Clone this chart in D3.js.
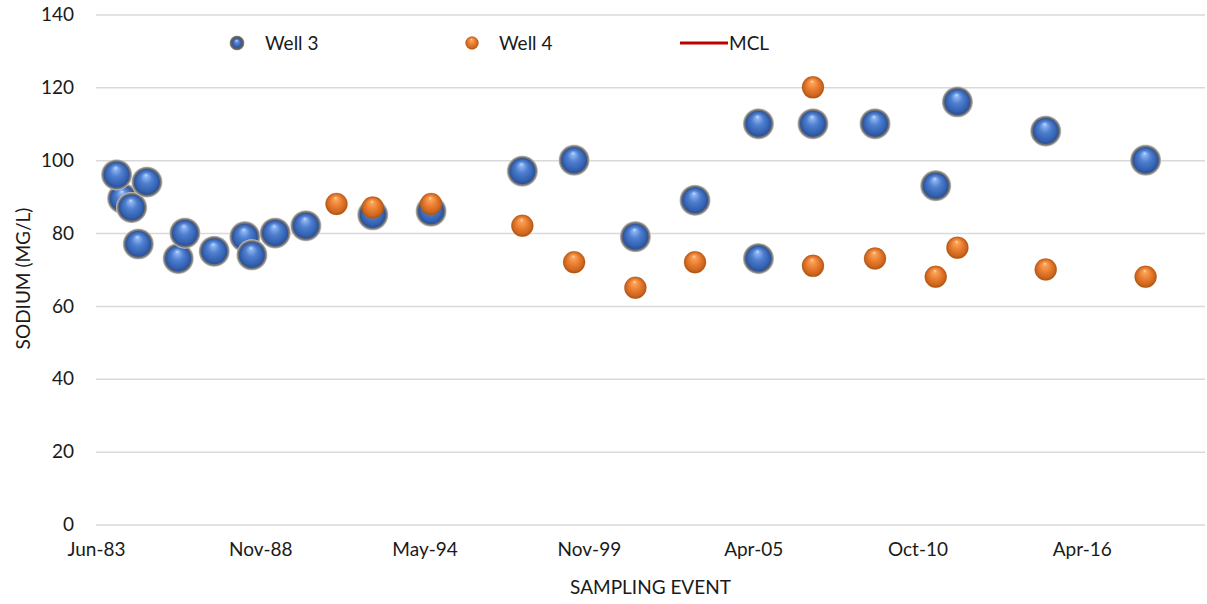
<!DOCTYPE html>
<html>
<head>
<meta charset="utf-8">
<script src="https://cdn.jsdelivr.net/npm/d3@7"></script>
<style>
  html, body { margin: 0; padding: 0; background: #fff; }
  svg { display: block; font-family: Lato, "Open Sans", sans-serif; }
</style>
</head>
<body>
<svg id="chart" width="1207" height="604"></svg>
<script>
// Sodium sampling results, Well 3 and Well 4 (mg/L)
const well3Dates = ["1984-04-20", "1984-02-07", "1984-08-08", "1984-10-28", "1985-02-10",
  "1986-02-26", "1986-05-18", "1987-05-10", "1988-05-17", "1988-08-11", "1989-05-21",
  "1990-05-30", "1992-08-21", "1994-08-01", "1997-08-16", "1999-05-08", "2001-05-23",
  "2003-05-19", "2005-06-29", "2005-06-29", "2007-04-24", "2009-05-18", "2011-05-27",
  "2012-02-15", "2015-01-25", "2018-05-25"];
const well3Values = [89.5, 96, 87, 77, 94,
  73, 80, 75, 79, 74, 80,
  82, 85, 86, 97, 100, 79,
  89, 110, 73, 110, 110, 93,
  116, 108, 100];

const well4Dates = ["1991-06-07", "1992-08-21", "1994-08-01", "1997-08-16", "1999-05-08",
  "2001-05-23", "2003-05-19", "2007-04-24", "2007-04-24", "2009-05-18", "2011-05-27",
  "2012-02-15", "2015-01-25", "2018-05-25"];
const well4Values = [88, 87, 88, 82, 72,
  65, 72, 120, 71, 73, 68,
  76, 70, 68];

// Date axis: starts Jun-83, a labelled tick every 2000 days
const xStart = "1983-06-01";
const xTickStepDays = 2000;
const xTickCount = 7;
const xSpanDays = 13500;

const yTicks = [0, 20, 40, 60, 80, 100, 120, 140];
const seriesNames = ["Well 3", "Well 4", "MCL"];

const FONT_SIZE = "19px";
const TEXT_COLOR = "#1a1a1a";

const parse = d3.utcParse("%Y-%m-%d");
const fmt = d3.utcFormat("%b-%y");
const start = parse(xStart);
const end = d3.utcDay.offset(start, xSpanDays);
const xTickValues = d3.range(xTickCount).map(i => d3.utcDay.offset(start, i * xTickStepDays));

const svg = d3.select("#chart");
const plot = { left: 96, right: 1205, top: 14.5, bottom: 524.5 };

const x = d3.scaleUtc().domain([start, end]).range([plot.left, plot.right]);
const y = d3.scaleLinear().domain([0, 140]).range([plot.bottom, plot.top]);

// Gradients for the shaded markers
const defs = svg.append("defs");
function ball(id, stops) {
  const g = defs.append("radialGradient").attr("id", id)
    .attr("cx", "50%").attr("cy", "50%").attr("r", "50%")
    .attr("fx", "46%").attr("fy", "22%");
  stops.forEach(([o, c]) => g.append("stop").attr("offset", o).attr("stop-color", c));
}
ball("blueBall", [[0, "#cfe3ff"], [0.12, "#8db5f2"], [0.45, "#4f7fd0"], [0.82, "#3563b3"], [1, "#2a5099"]]);
ball("orangeBall", [[0, "#ffe0b8"], [0.14, "#f9a45a"], [0.5, "#ec7f31"], [0.85, "#cc651f"], [1, "#a9520f"]]);
const ring = defs.append("radialGradient").attr("id", "ringGrad")
  .attr("cx", "50%").attr("cy", "50%").attr("r", "50%");
ring.append("stop").attr("offset", 0.8).attr("stop-color", "#5e5e5e");
ring.append("stop").attr("offset", 0.9).attr("stop-color", "#7d7d7d");
ring.append("stop").attr("offset", 1).attr("stop-color", "#d0d0d0");
defs.append("filter").attr("id", "soft").attr("x", "-30%").attr("y", "-30%")
  .attr("width", "160%").attr("height", "160%")
  .append("feGaussianBlur").attr("stdDeviation", 0.7);

// Gridlines
svg.append("g")
  .attr("transform", `translate(${plot.left},0)`)
  .call(d3.axisLeft(y).tickValues(yTicks).tickSize(-(plot.right - plot.left)).tickFormat(""))
  .call(g => g.select(".domain").remove())
  .call(g => g.selectAll("line").attr("stroke", "#d9d9d9").attr("stroke-width", 1.5));

// Y tick labels
svg.append("g")
  .attr("transform", `translate(${plot.left},0)`)
  .call(d3.axisLeft(y).tickValues(yTicks).tickSize(0).tickPadding(22))
  .call(g => g.select(".domain").remove())
  .call(g => g.selectAll("text").attr("fill", TEXT_COLOR).style("font-size", FONT_SIZE)
    .style("font-family", "Lato, sans-serif"));

// X tick labels
svg.append("g")
  .attr("transform", `translate(0,${plot.bottom})`)
  .call(d3.axisBottom(x).tickValues(xTickValues).tickFormat(fmt).tickSize(0).tickPadding(18))
  .call(g => g.select(".domain").remove())
  .call(g => g.selectAll("text").attr("fill", TEXT_COLOR).style("font-size", FONT_SIZE)
    .style("font-family", "Lato, sans-serif"));

// Axis titles
svg.append("text")
  .attr("x", (plot.left + plot.right) / 2).attr("y", 594)
  .attr("text-anchor", "middle").attr("fill", TEXT_COLOR).style("font-size", FONT_SIZE)
  .text("SAMPLING EVENT");
svg.append("text")
  .attr("transform", `translate(30,${(plot.top + plot.bottom) / 2 + 9}) rotate(-90)`)
  .attr("text-anchor", "middle").attr("fill", TEXT_COLOR).style("font-size", FONT_SIZE)
  .text("SODIUM (MG/L)");

// Markers
function blueMarker(sel, r) {
  sel.append("circle").attr("r", r + 0.6).attr("fill", "url(#ringGrad)").attr("filter", "url(#soft)");
  sel.append("circle").attr("r", r - 2.2).attr("fill", "url(#blueBall)");
}
function orangeMarker(sel, r) {
  sel.append("circle").attr("r", r).attr("fill", "url(#orangeBall)")
    .attr("stroke", "#b5651d").attr("stroke-opacity", 0.35).attr("stroke-width", 0.8);
}

const well3 = well3Dates.map((d, i) => ({ date: parse(d), value: well3Values[i] }));
const well4 = well4Dates.map((d, i) => ({ date: parse(d), value: well4Values[i] }));

svg.append("g").selectAll("g").data(well3).join("g")
  .attr("transform", d => `translate(${x(d.date)},${y(d.value)})`)
  .each(function () { blueMarker(d3.select(this), 15); });

svg.append("g").selectAll("g").data(well4).join("g")
  .attr("transform", d => `translate(${x(d.date)},${y(d.value)})`)
  .each(function () { orangeMarker(d3.select(this), 11); });

// Legend
const legendY = 43;
const lg = svg.append("g");
blueMarker(lg.append("g").attr("transform", `translate(237,${legendY})`), 7);
lg.append("text").attr("x", 265).attr("y", legendY).attr("dy", "0.35em")
  .attr("fill", TEXT_COLOR).style("font-size", FONT_SIZE).text(seriesNames[0]);
orangeMarker(lg.append("g").attr("transform", `translate(472,${legendY})`), 6.5);
lg.append("text").attr("x", 499).attr("y", legendY).attr("dy", "0.35em")
  .attr("fill", TEXT_COLOR).style("font-size", FONT_SIZE).text(seriesNames[1]);
lg.append("line").attr("x1", 680).attr("x2", 728).attr("y1", legendY).attr("y2", legendY)
  .attr("stroke", "#c00000").attr("stroke-width", 3.2);
lg.append("text").attr("x", 729).attr("y", legendY).attr("dy", "0.35em")
  .attr("fill", TEXT_COLOR).style("font-size", FONT_SIZE).text(seriesNames[2]);
</script>
</body>
</html>
